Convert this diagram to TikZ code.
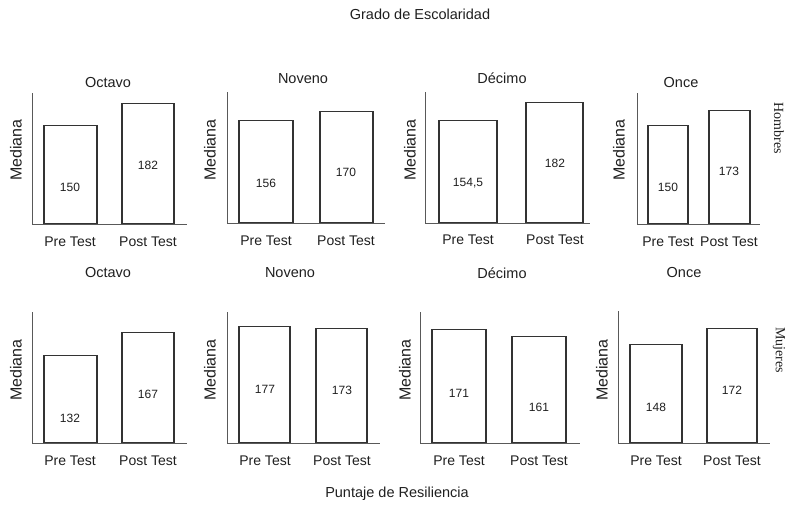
\documentclass[tikz,border=0pt]{standalone}
\usepackage{fontspec}
\setmainfont{Liberation Sans}
\newfontfamily\serifont{Liberation Serif}
\usetikzlibrary{positioning}
\definecolor{ejegris}{gray}{0.35}
\definecolor{textogris}{gray}{0.12}

\begin{document}
\begin{tikzpicture}[x=1pt, y=-1pt, semithick,
            bar/.style ={draw=black!80, line width=1.1pt, anchor=south, inner sep=0pt},
            val/.style ={font=\fontsize{12}{14}\selectfont, text=textogris},
            cat/.style ={font=\fontsize{14}{16}\selectfont, text=textogris},
            grado/.style ={font=\fontsize{14.5}{17}\selectfont, text=textogris},
            ylab/.style ={rotate=90, font=\fontsize{16}{18}\selectfont, text=textogris},
            sexo/.style ={rotate=-90, inner sep=1pt, font=\serifont\fontsize{14}{16}\selectfont, text=textogris},
            eje/.style ={draw=ejegris, line width=0.9pt}]

        \useasboundingbox (0,0) rectangle (788,506);

        %\node [estilo] (nombre) at (x, y) {};

        \node[grado] (titulo) at (420,14) {Grado de Escolaridad};
        \node[grado] (puntaje) at (397,494) {Puntaje de Resiliencia};
        \node[sexo] (hombres) at (779,128) {Hombres};
        \node[sexo] (mujeres) at (779,350) {Mujeres};

        % Hombres
        \node[grado] (hOct) at (108,83) {Octavo};
        \node[grado] (hNov) at (303,79) {Noveno};
        \node[grado] (hDec) at (502,78) {Décimo};
        \node[grado] (hOnc) at (681,83) {Once};

        \draw[eje] (32,93) |- (187,224);
        \draw[eje] (227,92) |- (385,223);
        \draw[eje] (425,92) |- (590,223);
        \draw[eje] (637,93) |- (760,224);

        \node[ylab] (hOctY) at (16,150) {Mediana};
        \node[ylab] (hNovY) at (210,150) {Mediana};
        \node[ylab] (hDecY) at (410,150) {Mediana};
        \node[ylab] (hOncY) at (619,150) {Mediana};

        \node[bar, minimum width=53, minimum height=98] (hOctPre) at (70.5,224) {};
        \node[bar, minimum width=52, minimum height=120] (hOctPost) at (148,224) {};
        \node[bar, minimum width=54, minimum height=102] (hNovPre) at (266,223) {};
        \node[bar, minimum width=53, minimum height=111] (hNovPost) at (346.5,223) {};
        \node[bar, minimum width=58, minimum height=102] (hDecPre) at (468,223) {};
        \node[bar, minimum width=57, minimum height=120] (hDecPost) at (554.5,223) {};
        \node[bar, minimum width=40, minimum height=98] (hOncPre) at (668,224) {};
        \node[bar, minimum width=41, minimum height=113] (hOncPost) at (729.5,224) {};

        \node[val] at (70,187) {150};
        \node[val] at (148,165) {182};
        \node[val] at (266,183) {156};
        \node[val] at (346,172) {170};
        \node[val] at (468,183) {154,5};
        \node[val] at (555,163) {182};
        \node[val] at (668,187) {150};
        \node[val] at (729,171) {173};

        \node[cat] at (70,242) {Pre Test};
        \node[cat] at (148,242) {Post Test};
        \node[cat] at (266,241) {Pre Test};
        \node[cat] at (346,241) {Post Test};
        \node[cat] at (468,240) {Pre Test};
        \node[cat] at (555,240) {Post Test};
        \node[cat] at (668,242) {Pre Test};
        \node[cat] at (729,242) {Post Test};

        % Mujeres
        \node[grado] (mOct) at (108,273) {Octavo};
        \node[grado] (mNov) at (290,273) {Noveno};
        \node[grado] (mDec) at (502,273) {Décimo};
        \node[grado] (mOnc) at (684,273) {Once};

        \draw[eje] (32,312) |- (187,443);
        \draw[eje] (227,312) |- (380,443);
        \draw[eje] (420,312) |- (580,443);
        \draw[eje] (618,311) |- (770,443);

        \node[ylab] (mOctY) at (16,370) {Mediana};
        \node[ylab] (mNovY) at (210,370) {Mediana};
        \node[ylab] (mDecY) at (405,370) {Mediana};
        \node[ylab] (mOncY) at (602,370) {Mediana};

        \node[bar, minimum width=53, minimum height=87] (mOctPre) at (70.5,443) {};
        \node[bar, minimum width=52, minimum height=110] (mOctPost) at (148,443) {};
        \node[bar, minimum width=51, minimum height=116] (mNovPre) at (264.5,443) {};
        \node[bar, minimum width=51, minimum height=114] (mNovPost) at (341.5,443) {};
        \node[bar, minimum width=54, minimum height=113] (mDecPre) at (459,443) {};
        \node[bar, minimum width=54, minimum height=106] (mDecPost) at (539,443) {};
        \node[bar, minimum width=52, minimum height=98] (mOncPre) at (656,443) {};
        \node[bar, minimum width=50, minimum height=114] (mOncPost) at (732,443) {};

        \node[val] at (70,418) {132};
        \node[val] at (148,394) {167};
        \node[val] at (265,389) {177};
        \node[val] at (342,390) {173};
        \node[val] at (459,393) {171};
        \node[val] at (539,407) {161};
        \node[val] at (656,407) {148};
        \node[val] at (732,390) {172};

        \node[cat] at (70,461) {Pre Test};
        \node[cat] at (148,461) {Post Test};
        \node[cat] at (265,461) {Pre Test};
        \node[cat] at (342,461) {Post Test};
        \node[cat] at (459,461) {Pre Test};
        \node[cat] at (539,461) {Post Test};
        \node[cat] at (656,461) {Pre Test};
        \node[cat] at (732,461) {Post Test};

\end{tikzpicture}
\end{document}
